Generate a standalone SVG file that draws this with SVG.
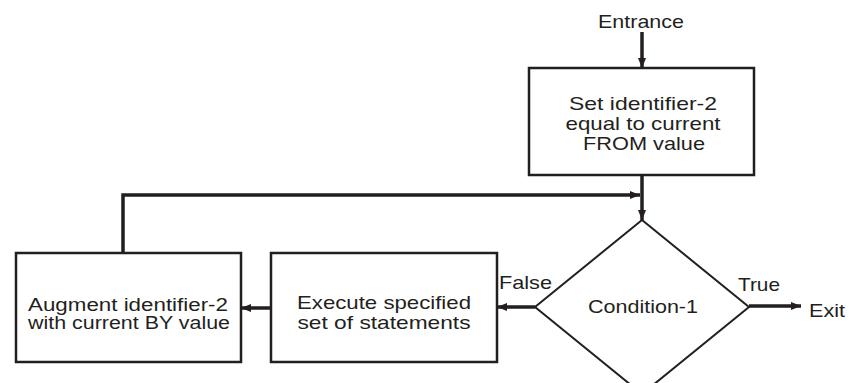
<svg xmlns="http://www.w3.org/2000/svg" width="849" height="383" viewBox="0 0 849 383">
<defs>
<style>
.box{fill:#fff;stroke:#231f20;stroke-width:2.5}
.dia{fill:#fff;stroke:#231f20;stroke-width:2}
.con{fill:none;stroke:#231f20;stroke-width:3.5}
text{font-family:"Liberation Sans",Arial,sans-serif;font-size:19px;fill:#231f20}
.c{text-anchor:middle}
.s{font-size:17.5px}
</style>
<marker id="ah" viewBox="0 0 10 8" refX="10" refY="4" markerWidth="10" markerHeight="8" markerUnits="userSpaceOnUse" orient="auto">
<path d="M0,0 L10,4 L0,8 Z" fill="#231f20"/>
</marker>
</defs>
<rect width="849" height="383" fill="#fff"/>
<g id="entrance"><text x="641" y="28" class="c" textLength="86" lengthAdjust="spacingAndGlyphs">Entrance</text></g>
<g id="set-box">
<rect class="box" x="529" y="68" width="225" height="107"/>
<text x="643" y="110" class="c" textLength="148" lengthAdjust="spacingAndGlyphs">Set identifier-2</text>
<text x="643" y="130" class="c" textLength="155" lengthAdjust="spacingAndGlyphs">equal to current</text>
<text x="644" y="150" class="c" textLength="122" lengthAdjust="spacingAndGlyphs">FROM value</text>
</g>
<g id="condition">
<polygon class="dia" points="642,220 749,307 642,394 535,307"/>
<text x="643" y="313" class="c" textLength="110" lengthAdjust="spacingAndGlyphs">Condition-1</text>
</g>
<g id="execute-box">
<rect class="box" x="271" y="253" width="226" height="109"/>
<text x="384" y="309" class="c" textLength="174" lengthAdjust="spacingAndGlyphs">Execute specified</text>
<text x="384" y="329" class="c" textLength="173" lengthAdjust="spacingAndGlyphs">set of statements</text>
</g>
<g id="augment-box">
<rect class="box" x="16" y="253" width="225" height="109"/>
<text x="128" y="311" class="c s" textLength="200" lengthAdjust="spacingAndGlyphs">Augment identifier-2</text>
<text x="129" y="329" class="c s" textLength="202" lengthAdjust="spacingAndGlyphs">with current BY value</text>
</g>
<g id="exit"><text x="809" y="317" textLength="36" lengthAdjust="spacingAndGlyphs">Exit</text></g>
<g id="connectors">
<line class="con" x1="642" y1="32" x2="642" y2="68" marker-end="url(#ah)"/>
<line class="con" x1="642" y1="175" x2="642" y2="220" marker-end="url(#ah)"/>
<polyline class="con" points="123,253 123,195 640,195" marker-end="url(#ah)"/>
<line class="con" x1="535" y1="307" x2="497" y2="307" marker-end="url(#ah)"/>
<line class="con" x1="271" y1="308" x2="241" y2="308" marker-end="url(#ah)"/>
<line class="con" x1="749" y1="306" x2="801" y2="306" marker-end="url(#ah)"/>
<text x="499" y="289" textLength="53" lengthAdjust="spacingAndGlyphs">False</text>
<text x="738" y="291" textLength="42" lengthAdjust="spacingAndGlyphs">True</text>
</g>
</svg>
